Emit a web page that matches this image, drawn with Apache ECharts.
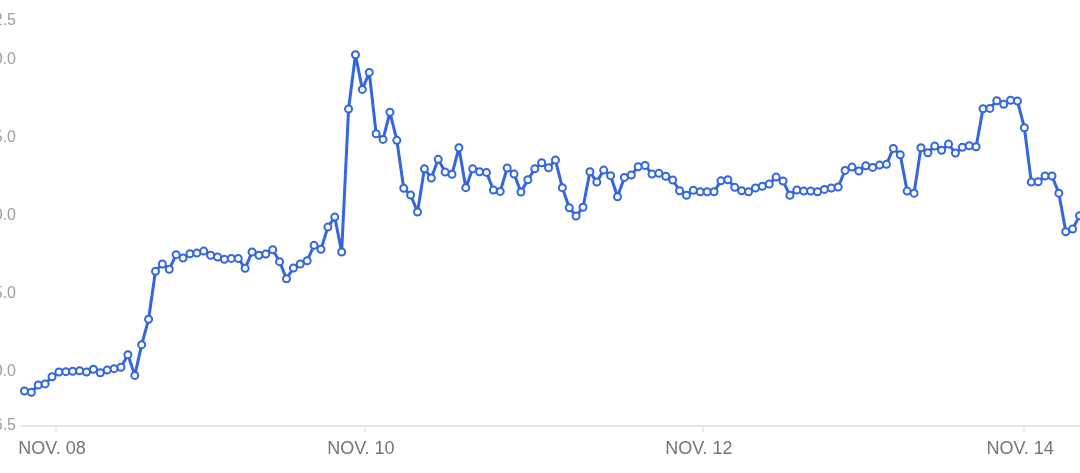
<!DOCTYPE html>
<html>
<head>
<meta charset="utf-8">
<script src="https://cdn.jsdelivr.net/npm/echarts@6/dist/echarts.min.js"></script>
<style>
html,body{margin:0;padding:0;background:#fff;}
#chart{width:1080px;height:473px;}
</style>
</head>
<body>
<div id="chart"></div>
<script>
// Series values (one reading per step, index = position on the x axis)
const values = [
  38.75, 38.66, 39.13, 39.20, 39.66, 39.97, 39.99, 40.01, 40.05, 39.97,
  40.14, 39.92, 40.09, 40.18, 40.27, 41.08, 39.75, 41.72, 43.35, 46.43,
  46.90, 46.56, 47.50, 47.28, 47.56, 47.60, 47.73, 47.46, 47.35, 47.20,
  47.26, 47.26, 46.62, 47.67, 47.46, 47.54, 47.82, 47.05, 45.95, 46.64,
  46.90, 47.11, 48.10, 47.84, 49.27, 49.91, 47.67, 56.85, 60.33, 58.11,
  59.20, 55.26, 54.90, 56.65, 54.84, 51.76, 51.33, 50.24, 53.01, 52.42,
  53.62, 52.80, 52.66, 54.36, 51.80, 53.01, 52.82, 52.78, 51.65, 51.56,
  53.06, 52.67, 51.52, 52.31, 53.01, 53.40, 53.08, 53.57, 51.80, 50.51,
  49.98, 50.54, 52.82, 52.16, 52.93, 52.57, 51.22, 52.46, 52.61, 53.14,
  53.23, 52.67, 52.72, 52.53, 52.29, 51.60, 51.31, 51.63, 51.54, 51.54,
  51.54, 52.24, 52.31, 51.82, 51.60, 51.54, 51.78, 51.89, 52.03, 52.48,
  52.23, 51.31, 51.65, 51.58, 51.58, 51.54, 51.69, 51.78, 51.84, 52.91,
  53.12, 52.87, 53.21, 53.10, 53.25, 53.30, 54.32, 53.91, 51.58, 51.45,
  54.36, 54.04, 54.47, 54.20, 54.60, 54.02, 54.39, 54.49, 54.43, 56.87,
  56.89, 57.38, 57.15, 57.41, 57.36, 55.65, 52.16, 52.18, 52.55, 52.55,
  51.45, 48.97, 49.14, 50.00
];

// Date tick labels and where they sit along the x axis (in step units)
const dayLabels = ['NOV. 08', 'NOV. 10', 'NOV. 12', 'NOV. 14'];
const dayTickAt = [4.5, 49.3, 98.3, 144.9];

// Y axis tick values
const yTicks = [36.5, 40, 45, 50, 55, 60, 62.5];
const yMin = 36.5;
const yMax = 62.5;

const seriesData = values.map((v, i) => [i, v]);

const chart = echarts.init(document.getElementById('chart'), null, {renderer: 'canvas'});
chart.setOption({
  animation: false,
  backgroundColor: '#ffffff',
  grid: { left: 21, top: 21, width: 1062, height: 405, containLabel: false, outerBoundsMode: 'none' },
  xAxis: {
    type: 'value',
    min: -0.5,
    max: values.length - 0.5,
    splitLine: { show: false },
    axisLine: { show: true, lineStyle: { color: '#e6e6e6', width: 2 } },
    axisTick: { show: true, length: 6, customValues: dayTickAt, lineStyle: { color: '#e6e6e6', width: 1.5 } },
    axisLabel: {
      customValues: dayTickAt,
      margin: 14,
      color: '#757575',
      fontSize: 18,
      fontFamily: 'Liberation Sans, Arial, sans-serif',
      padding: [0, 7, 0, 0],
      formatter: function (v) {
        let best = 0;
        for (let k = 1; k < dayTickAt.length; k++) {
          if (Math.abs(dayTickAt[k] - v) < Math.abs(dayTickAt[best] - v)) best = k;
        }
        return dayLabels[best];
      }
    }
  },
  yAxis: {
    type: 'value',
    min: yMin,
    max: yMax,
    splitLine: { show: false },
    axisLine: { show: false },
    axisTick: { show: false },
    axisLabel: {
      customValues: yTicks,
      margin: 5,
      color: '#9e9e9e',
      fontSize: 16,
      fontFamily: 'Liberation Sans, Arial, sans-serif',
      formatter: function (v) { return v.toFixed(1); }
    }
  },
  series: [{
    type: 'line',
    data: seriesData,
    showSymbol: true,
    showAllSymbol: true,
    symbol: 'emptyCircle',
    symbolSize: 7,
    clip: false,
    lineStyle: { color: '#3366e0', width: 3 },
    itemStyle: { color: '#3366e0', borderColor: '#3366e0', borderWidth: 1.6 }
  }]
});
</script>
</body>
</html>
